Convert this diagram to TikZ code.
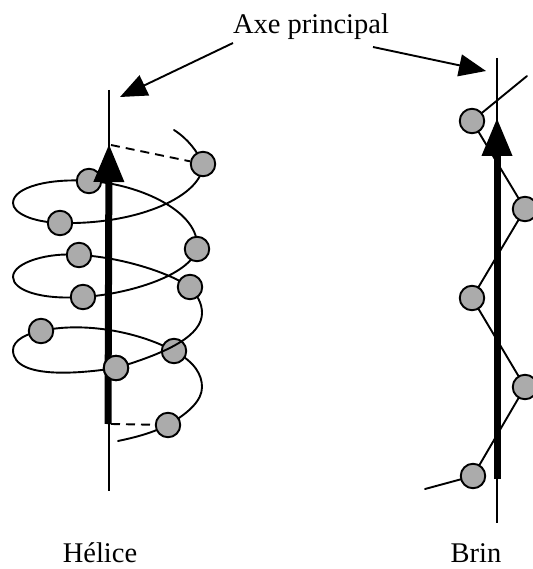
\documentclass[tikz,border=0pt]{standalone}
\usepackage{fontspec}
\setmainfont{Liberation Serif}
\usetikzlibrary{arrows.meta}
\tikzset{
  x=1pt,y=-1pt,
  residue/.style={circle,draw=black,fill=black!33,line width=1.9pt,minimum size=24.5pt,inner sep=0pt},
  thin axis/.style={line width=1.9pt},
  strand/.style={line width=1.9pt,line cap=round},
  main axis/.style={line width=7pt,-{Triangle[length=38pt,width=29pt]}},
  pointer/.style={line width=1.9pt,-{Triangle[length=27pt,width=22pt]}},
  hdash/.style={line width=1.9pt,dash pattern=on 9pt off 6pt},
  label/.style={inner sep=0pt,anchor=base,font=\fontsize{28.5}{32}\selectfont}
}
\begin{document}
\begin{tikzpicture}
\useasboundingbox (0,0) rectangle (532,569);
% coordinates of the helix
\coordinate (c1) at (203,164); \coordinate (c2) at (89,181); \coordinate (c3) at (60,223);
\coordinate (c4) at (197,249); \coordinate (c5) at (79,255); \coordinate (c6) at (190,287);
\coordinate (c7) at (83,297); \coordinate (c8) at (41,331); \coordinate (c9) at (174,351);
\coordinate (c10) at (116,368); \coordinate (c11) at (168,425);
\coordinate (hs) at (174,130); \coordinate (he) at (118,441);
% axes
\coordinate (at) at (109,90); \coordinate (ab) at (109,491);
\coordinate (bt) at (497,58); \coordinate (bb) at (497,523);
\draw[thin axis] (at) -- (ab);
\draw[thin axis] (bt) -- (bb);
% strand
\coordinate (rs) at (527,76); \coordinate (re) at (425,489);
\coordinate (r1) at (472,121); \coordinate (r2) at (525,209); \coordinate (r3) at (472,298);
\coordinate (r4) at (525,387); \coordinate (r5) at (473,476);
\draw[strand] (rs) -- (r1) -- (r2) -- (r3) -- (r4) -- (r5) -- (re);
% helix
\draw[strand] (hs) .. controls (188,139) and (197,151) .. (c1)
  .. controls (203,195) and (140,225) .. (c3)
  .. controls (32,222) and (13,213) .. (13,203)
  .. controls (13,187) and (50,178) .. (c2)
  .. controls (140,184) and (201,212) .. (c4)
  .. controls (190,275) and (130,294) .. (c7)
  .. controls (40,300) and (13,290) .. (13,277)
  .. controls (13,262) and (50,252) .. (c5)
  .. controls (120,257) and (168,272) .. (c6);
\draw[strand] (c10) .. controls (90,372) and (13,382) .. (13,350)
  .. controls (13,340) and (28,333) .. (c8);
\draw[strand] (c8) .. controls (80,322) and (135,330) .. (c9)
  .. controls (195,362) and (202,375) .. (202,387)
  .. controls (202,400) and (190,412) .. (c11)
  .. controls (150,434) and (132,438) .. (he);
\node[residue] (h9) at (c9) {};
\draw[strand] (c6) .. controls (197,295) and (202,303) .. (202,313)
  .. controls (202,335) and (170,352) .. (c10);
\foreach \n in {1,...,8,10,11}{\node[residue] (h\n) at (c\n) {};}
\foreach \n in {1,...,5}{\node[residue] (s\n) at (r\n) {};}
% dashed links
\coordinate (d1) at (111,145); \coordinate (d2) at (111,424);
\draw[hdash] (d1) -- (h1);
\draw[hdash] (d2) -- (h11);
% main arrows
\coordinate (a1) at (108,424); \coordinate (a2) at (109,144);
\coordinate (b1) at (497,479); \coordinate (b2) at (497,118);
\draw[main axis] (a1) -- (a2);
\draw[main axis] (b1) -- (b2);
\node[residue] at (c10) {};
% labels and pointers
\node[label] (axe) at (311,34) {Axe principal};
\node[label] (hel) at (100,562) {Hélice};
\node[label] (brin) at (476,562) {Brin};
\coordinate (p1) at (120,97); \coordinate (p2) at (486,71);
\coordinate (q1) at (233,43); \coordinate (q2) at (373,47);
\draw[pointer] (q1) -- (p1);
\draw[pointer] (q2) -- (p2);
\end{tikzpicture}
\end{document}
